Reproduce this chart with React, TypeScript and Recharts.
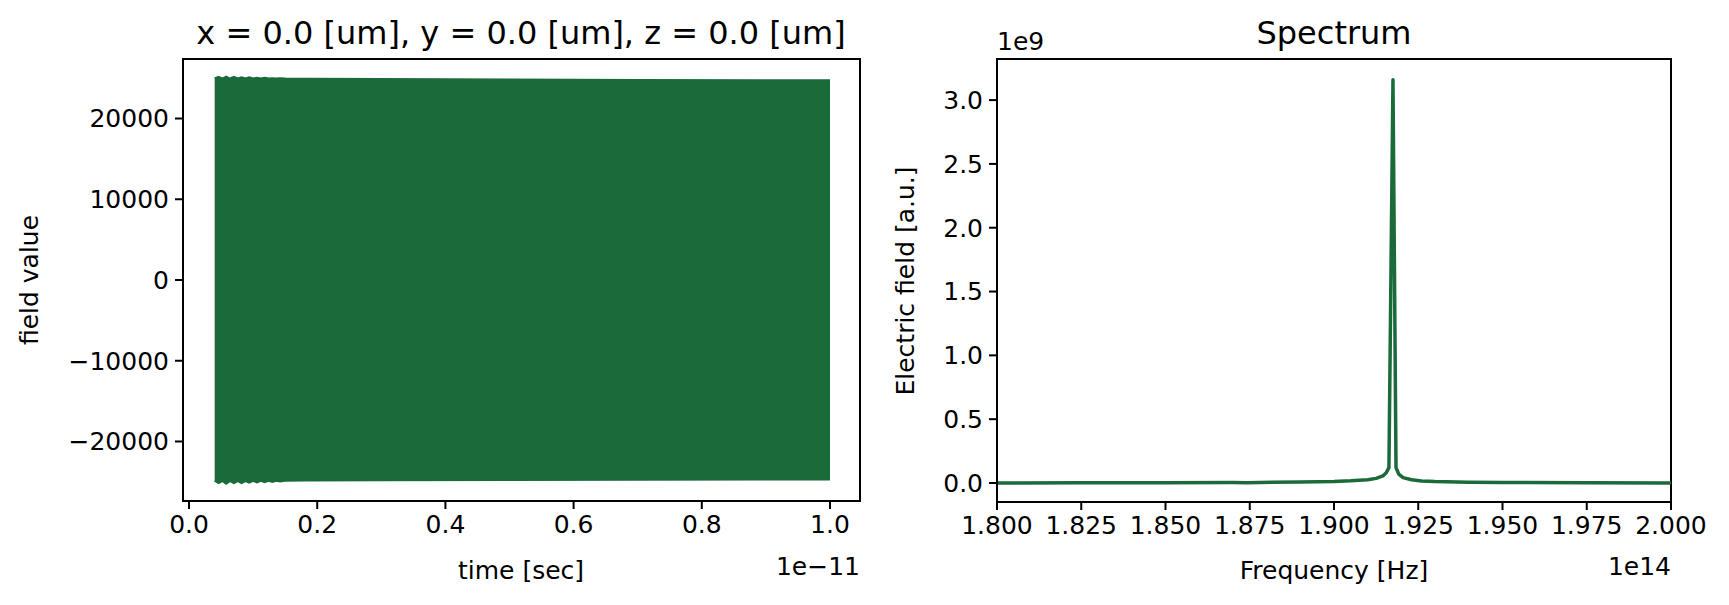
import {
  ComposedChart,
  LineChart,
  Area,
  Line,
  XAxis,
  YAxis,
  ReferenceArea,
} from "recharts";

/* ======================
 * DATA
 * ====================== */

// left panel: field envelope vs time (time in units of 1e-11 s)
const timeEnv = [
  0.04, 0.046, 0.052, 0.058, 0.064, 0.07, 0.076, 0.082, 0.088, 0.094, 0.1,
  0.106, 0.112, 0.118, 0.124, 0.13, 0.136, 0.142, 0.15, 0.18, 0.3, 0.5, 0.7,
  0.9, 1.0,
];
const upperEnv = [
  24950, 25150, 24950, 25200, 24950, 25150, 24950, 25100, 24950, 25100, 24950,
  25050, 24950, 25050, 24950, 25000, 24950, 24980, 24950, 24930, 24880, 24830,
  24780, 24750, 24740,
];
const lowerEnv = [
  -24850, -25150, -24900, -25250, -24900, -25150, -24900, -25150, -24900,
  -25100, -24880, -25080, -24880, -25050, -24870, -25000, -24860, -24950,
  -24850, -24840, -24800, -24760, -24730, -24710, -24700,
];
const timeTicks = [0, 0.2, 0.4, 0.6, 0.8, 1.0];
const fieldTicks = [-20000, -10000, 0, 10000, 20000];

// right panel: spectrum (frequency in 1e14 Hz, amplitude in 1e9 a.u.)
const freq = [
  1.8, 1.825, 1.85, 1.87, 1.874, 1.878, 1.89, 1.9, 1.905, 1.91, 1.9125,
  1.9145, 1.9155, 1.9163, 1.9175, 1.9184, 1.9192, 1.9205, 1.923, 1.926, 1.93,
  1.94, 1.95, 1.975, 2.0,
];
const amplitude = [
  0.0, 0.001, 0.002, 0.003, 0.001, 0.004, 0.008, 0.012, 0.017, 0.026, 0.036,
  0.055, 0.08, 0.12, 3.16, 0.12, 0.07, 0.042, 0.025, 0.016, 0.011, 0.006,
  0.004, 0.002, 0.0,
];
const freqTicks = [1.8, 1.825, 1.85, 1.875, 1.9, 1.925, 1.95, 1.975, 2.0];
const ampTicks = [0, 0.5, 1.0, 1.5, 2.0, 2.5, 3.0];

/* ======================
 * STYLE
 * ====================== */

const GREEN = "#1b6a3a";
const FONT = "'DejaVu Sans', sans-serif";
const TICK_FS = 25;
const TITLE_FS = 32;

const tickStyle = { fill: "#000", fontSize: TICK_FS, fontFamily: FONT };
const lineStyle = { stroke: "#000", strokeWidth: 2 };

const minus = (s: string) => s.replace("-", "\u2212");

const bandData = timeEnv.map((t, i) => ({
  t,
  band: [lowerEnv[i], upperEnv[i]],
}));

const spectrumData = freq.map((f, i) => ({ f, amp: amplitude[i] }));

const LEFT_X = [-0.0094, 1.0468];
const LEFT_Y = [-27370, 27370];
const RIGHT_X = [1.8, 2.0];
const RIGHT_Y = [-0.149, 3.322];

const Txt = ({
  x,
  y,
  size = TICK_FS,
  rotate = false,
  anchor = "center",
  children,
}: {
  x: number;
  y: number;
  size?: number;
  rotate?: boolean;
  anchor?: "center" | "left" | "right";
  children: string;
}) => {
  const tx = anchor === "center" ? "-50%" : anchor === "left" ? "0" : "-100%";
  return (
    <div
      style={{
        position: "absolute",
        left: x,
        top: y,
        transform: `translate(${tx}, -50%)${rotate ? " rotate(-90deg)" : ""}`,
        fontFamily: FONT,
        fontSize: size,
        color: "#000",
        whiteSpace: "nowrap",
        lineHeight: 1.164,
      }}
    >
      {children}
    </div>
  );
};

// box around the plot area (matplotlib spines)
const frame = (xd: number[], yd: number[]) => (
  <ReferenceArea
    x1={xd[0]}
    x2={xd[1]}
    y1={yd[0]}
    y2={yd[1]}
    fill="none"
    fillOpacity={0}
    stroke="#000"
    strokeWidth={2}
    ifOverflow="visible"
  />
);

/* ======================
 * COMPONENT
 * ====================== */

export default function App() {
  return (
    <div
      style={{
        position: "absolute",
        left: 0,
        top: 0,
        width: 1729,
        height: 605,
        background: "#fff",
      }}
    >
      {/* left: time domain */}
      <div style={{ position: "absolute", left: 0, top: 0 }}>
        <ComposedChart
          width={864}
          height={605}
          data={bandData}
          margin={{ top: 59, right: 4, bottom: 44, left: 103 }}
        >
          <XAxis
            dataKey="t"
            type="number"
            domain={LEFT_X}
            allowDataOverflow
            ticks={timeTicks}
            interval={0}
            tickFormatter={(v: number) => v.toFixed(1)}
            height={60}
            tickSize={8}
            tickMargin={6}
            tick={tickStyle}
            tickLine={lineStyle}
            axisLine={lineStyle}
          />
          <YAxis
            type="number"
            domain={LEFT_Y}
            allowDataOverflow
            ticks={fieldTicks}
            interval={0}
            tickFormatter={(v: number) => minus(String(v))}
            width={80}
            tickSize={8}
            tickMargin={6}
            tick={tickStyle}
            tickLine={lineStyle}
            axisLine={lineStyle}
          />
          <Area
            type="linear"
            dataKey="band"
            stroke={GREEN}
            strokeWidth={2}
            fill={GREEN}
            fillOpacity={1}
            dot={false}
            activeDot={false}
            isAnimationActive={false}
          />
          {frame(LEFT_X, LEFT_Y)}
        </ComposedChart>
      </div>

      {/* right: spectrum */}
      <div style={{ position: "absolute", left: 864, top: 0 }}>
        <LineChart
          width={865}
          height={605}
          data={spectrumData}
          margin={{ top: 59, right: 58, bottom: 43, left: 53 }}
        >
          <XAxis
            dataKey="f"
            type="number"
            domain={RIGHT_X}
            allowDataOverflow
            ticks={freqTicks}
            interval={0}
            tickFormatter={(v: number) => v.toFixed(3)}
            height={60}
            tickSize={8}
            tickMargin={6}
            tick={tickStyle}
            tickLine={lineStyle}
            axisLine={lineStyle}
          />
          <YAxis
            type="number"
            domain={RIGHT_Y}
            allowDataOverflow
            ticks={ampTicks}
            interval={0}
            tickFormatter={(v: number) => v.toFixed(1)}
            width={80}
            tickSize={8}
            tickMargin={6}
            tick={tickStyle}
            tickLine={lineStyle}
            axisLine={lineStyle}
          />
          <Line
            type="linear"
            dataKey="amp"
            stroke={GREEN}
            strokeWidth={3.5}
            strokeLinejoin="round"
            dot={false}
            activeDot={false}
            isAnimationActive={false}
          />
          {frame(RIGHT_X, RIGHT_Y)}
        </LineChart>
      </div>

      {/* titles, axis labels, offset texts */}
      <Txt x={521} y={34} size={TITLE_FS}>
        x = 0.0 [um], y = 0.0 [um], z = 0.0 [um]
      </Txt>
      <Txt x={521} y={571}>time [sec]</Txt>
      <Txt x={860} y={567} anchor="right">
        {"1e\u221211"}
      </Txt>
      <Txt x={30} y={280} rotate>
        field value
      </Txt>

      <Txt x={1334} y={34} size={TITLE_FS}>
        Spectrum
      </Txt>
      <Txt x={1334} y={571}>Frequency [Hz]</Txt>
      <Txt x={1671} y={567} anchor="right">
        1e14
      </Txt>
      <Txt x={997} y={42} anchor="left">
        1e9
      </Txt>
      <Txt x={906} y={281} rotate>
        Electric field [a.u.]
      </Txt>
    </div>
  );
}
